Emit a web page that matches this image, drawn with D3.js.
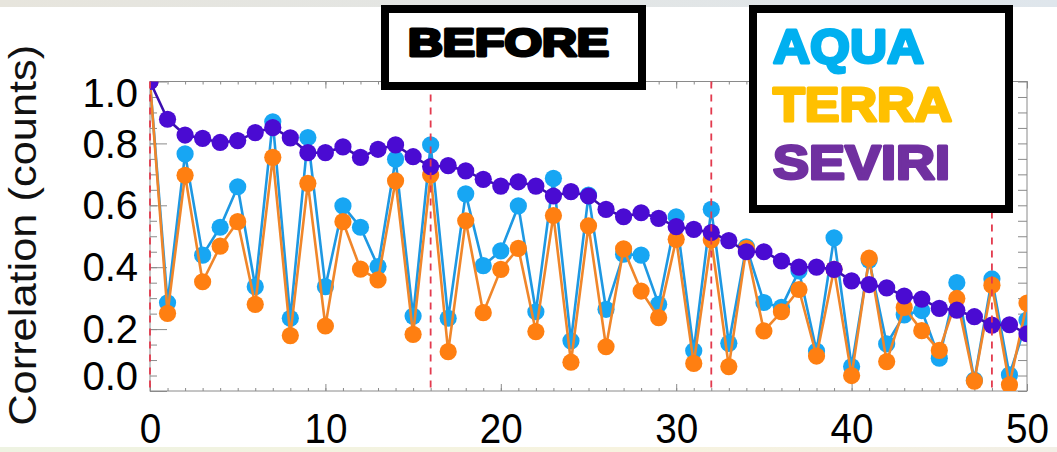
<!DOCTYPE html>
<html>
<head>
<meta charset="utf-8">
<script src="https://cdn.jsdelivr.net/npm/d3@7"></script>
<style>
  body { margin: 0; background: #fff; }
  text { font-family: "Liberation Sans", Arial, sans-serif; }
</style>
</head>
<body>
<script>
// ---- config ----
const width = 1057;
const height = 452;
const margin = { top: 81.5, right: 30, bottom: 61, left: 150 };

// ---- data ----
const lags = d3.range(0, 51);

const aqua = [
  1.000, 0.285, 0.766, 0.439, 0.529, 0.660, 0.337, 0.870, 0.235, 0.819,
  0.337, 0.598, 0.529, 0.402, 0.749, 0.242, 0.795, 0.235, 0.637, 0.405,
  0.453, 0.598, 0.256, 0.687, 0.162, 0.633, 0.264, 0.442, 0.439, 0.280,
  0.563, 0.130, 0.587, 0.154, 0.466, 0.286, 0.270, 0.388, 0.129, 0.495,
  0.079, 0.423, 0.152, 0.246, 0.260, 0.106, 0.350, 0.035, 0.362, 0.052,
  0.229
];

const terra = [
  1.000, 0.251, 0.697, 0.353, 0.468, 0.547, 0.280, 0.755, 0.179, 0.671,
  0.210, 0.547, 0.394, 0.359, 0.679, 0.183, 0.698, 0.127, 0.550, 0.253,
  0.393, 0.461, 0.192, 0.567, 0.093, 0.534, 0.143, 0.459, 0.323, 0.237,
  0.490, 0.089, 0.488, 0.079, 0.461, 0.194, 0.256, 0.328, 0.113, 0.393,
  0.050, 0.429, 0.095, 0.270, 0.195, 0.131, 0.299, 0.032, 0.342, 0.020,
  0.284
];

const seviri = [
  1.000, 0.878, 0.827, 0.816, 0.803, 0.809, 0.835, 0.851, 0.818, 0.770,
  0.770, 0.789, 0.755, 0.781, 0.795, 0.757, 0.725, 0.728, 0.711, 0.684,
  0.662, 0.676, 0.662, 0.630, 0.644, 0.630, 0.587, 0.563, 0.576, 0.558,
  0.531, 0.522, 0.512, 0.486, 0.450, 0.450, 0.420, 0.400, 0.400, 0.393,
  0.356, 0.344, 0.333, 0.307, 0.297, 0.267, 0.261, 0.240, 0.213, 0.214,
  0.185
];

const xTicks = [0, 10, 20, 30, 40, 50];
const yTicks = [0, 0.2, 0.4, 0.6, 0.8, 1.0];
const yTickLabels = ["0.0", "0.2", "0.4", "0.6", "0.8", "1.0"];
const dashedLags = [0, 16, 32, 48];
const yLabel = "Correlation (counts)";
const stamp = "BEFORE";
const legendNames = ["AQUA", "TERRA", "SEVIRI"];

// ---- styles ----
const series = [
  { name: "AQUA", values: aqua, line: "#1e98e2", dot: "#17a6f3" },
  { name: "TERRA", values: terra, line: "#f0862a", dot: "#ff7f11" },
  { name: "SEVIRI", values: seviri, line: "#3c0fb0", dot: "#4a0bd2" }
];
const legendColors = ["#00b0f0", "#ffc000", "#7030a0"];

// ---- svg ----
const svg = d3.select("body")
  .append("svg")
  .attr("width", width)
  .attr("height", height);

const defs = svg.append("defs");

const gTop = defs.append("linearGradient").attr("id", "gTop");
gTop.append("stop").attr("offset", "0%").attr("stop-color", "#e7e5dd");
gTop.append("stop").attr("offset", "100%").attr("stop-color", "#dfe6ec");
const gBot = defs.append("linearGradient").attr("id", "gBot");
gBot.append("stop").attr("offset", "0%").attr("stop-color", "#eef3e2");
gBot.append("stop").attr("offset", "60%").attr("stop-color", "#f7f3df");
gBot.append("stop").attr("offset", "100%").attr("stop-color", "#f2efe6");

svg.append("rect").attr("width", width).attr("height", height).attr("fill", "#fff");
svg.append("rect").attr("width", width).attr("height", 7).attr("fill", "url(#gTop)");
svg.append("rect").attr("y", 447).attr("width", width).attr("height", 5).attr("fill", "url(#gBot)");

// ---- scales ----
const x = d3.scaleLinear().domain([0, 50]).range([margin.left, width - margin.right]);
const y = d3.scaleLinear().domain([0, 1]).range([height - margin.bottom, margin.top]);

const axisColor = "#8a8a8a";

defs.append("clipPath").attr("id", "plotClip")
  .append("rect")
  .attr("x", x(0)).attr("y", y(1))
  .attr("width", x(50) - x(0)).attr("height", y(0) - y(1));

// ---- axes ----
function styleAxis(g) {
  g.select(".domain").remove();
  g.selectAll(".tick line").attr("stroke", axisColor);
}

// bottom
svg.append("g").attr("transform", `translate(0,${y(0)})`)
  .call(d3.axisBottom(x).tickValues(lags).tickSize(-3).tickFormat(""))
  .call(styleAxis);
svg.append("g").attr("transform", `translate(0,${y(0)})`)
  .call(d3.axisBottom(x).tickValues(xTicks).tickSize(-7).tickPadding(52).tickFormat(d3.format("d")))
  .call(styleAxis)
  .call(g => g.selectAll("text")
    .attr("dy", 0)
    .attr("font-size", 42)
    .attr("fill", "#000")
    .attr("textLength", d => String(d).length * 21.5)
    .attr("lengthAdjust", "spacingAndGlyphs"));

// top
svg.append("g").attr("transform", `translate(0,${y(1)})`)
  .call(d3.axisTop(x).tickValues(lags).tickSize(-3).tickFormat(""))
  .call(styleAxis);
svg.append("g").attr("transform", `translate(0,${y(1)})`)
  .call(d3.axisTop(x).tickValues(xTicks).tickSize(-7).tickFormat(""))
  .call(styleAxis);

// left
svg.append("g").attr("transform", `translate(${x(0)},0)`)
  .call(d3.axisLeft(y).ticks(20).tickSize(-7).tickFormat(""))
  .call(styleAxis);
svg.append("g").attr("transform", `translate(${x(0)},0)`)
  .call(d3.axisLeft(y).tickValues(yTicks).tickSize(-17).tickPadding(12)
    .tickFormat((d, i) => yTickLabels[i]))
  .call(styleAxis)
  .call(g => g.selectAll("text")
    .attr("font-size", 40)
    .attr("fill", "#000")
    .attr("dy", d => d === 1 ? "0.62em" : d === 0 ? "-0.05em" : "0.34em"));

// right
svg.append("g").attr("transform", `translate(${x(50)},0)`)
  .call(d3.axisRight(y).ticks(20).tickSize(-9).tickFormat(""))
  .call(styleAxis);

// frame
svg.append("rect")
  .attr("x", x(0)).attr("y", y(1))
  .attr("width", x(50) - x(0)).attr("height", y(0) - y(1))
  .attr("fill", "none")
  .attr("stroke", axisColor)
  .attr("stroke-width", 1);

// y label
svg.append("text")
  .attr("transform", `translate(36,${(y(0) + y(1)) / 2 - 1}) rotate(-90)`)
  .attr("text-anchor", "middle")
  .attr("font-size", 38)
  .attr("fill", "#111")
  .attr("textLength", 381)
  .attr("lengthAdjust", "spacingAndGlyphs")
  .text(yLabel);

// ---- series ----
const plot = svg.append("g").attr("clip-path", "url(#plotClip)");

const line = d3.line()
  .x((d, i) => x(lags[i]))
  .y(d => y(d));

series.forEach(s => {
  const g = plot.append("g");
  g.append("path")
    .datum(s.values)
    .attr("d", line)
    .attr("fill", "none")
    .attr("stroke", s.line)
    .attr("stroke-width", 2.6)
    .attr("stroke-linejoin", "round");
  g.selectAll("circle")
    .data(s.values)
    .join("circle")
    .attr("cx", (d, i) => x(lags[i]))
    .attr("cy", d => y(d))
    .attr("r", 8.6)
    .attr("fill", s.dot);
});

// ---- red dashed markers ----
svg.append("g")
  .selectAll("line")
  .data(dashedLags)
  .join("line")
  .attr("x1", d => x(d)).attr("x2", d => x(d))
  .attr("y1", y(1)).attr("y2", y(0))
  .attr("stroke", "#e33a4e")
  .attr("stroke-width", 1.8)
  .attr("stroke-dasharray", "7,6");

// ---- BEFORE stamp ----
svg.append("rect")
  .attr("x", 385).attr("y", 9)
  .attr("width", 257).attr("height", 77)
  .attr("fill", "#fff")
  .attr("stroke", "#000")
  .attr("stroke-width", 8);

svg.append("text")
  .attr("x", 408).attr("y", 56)
  .attr("font-size", 38)
  .attr("font-weight", "bold")
  .attr("fill", "#000")
  .attr("stroke", "#000")
  .attr("stroke-width", 3)
  .attr("stroke-linejoin", "round")
  .attr("textLength", 201)
  .attr("lengthAdjust", "spacingAndGlyphs")
  .text(stamp);

// ---- legend ----
svg.append("rect")
  .attr("x", 753).attr("y", 9)
  .attr("width", 256).attr("height", 200)
  .attr("fill", "#fff")
  .attr("stroke", "#000")
  .attr("stroke-width", 8);

const legendWidths = [151, 179, 177];
svg.append("g")
  .selectAll("text")
  .data(legendNames)
  .join("text")
  .attr("x", 773)
  .attr("y", (d, i) => 63 + i * 58)
  .attr("font-size", 49)
  .attr("font-weight", "bold")
  .attr("fill", (d, i) => legendColors[i])
  .attr("stroke", (d, i) => legendColors[i])
  .attr("stroke-width", 3)
  .attr("stroke-linejoin", "round")
  .attr("textLength", (d, i) => legendWidths[i])
  .attr("lengthAdjust", "spacingAndGlyphs")
  .text(d => d);
</script>
</body>
</html>
